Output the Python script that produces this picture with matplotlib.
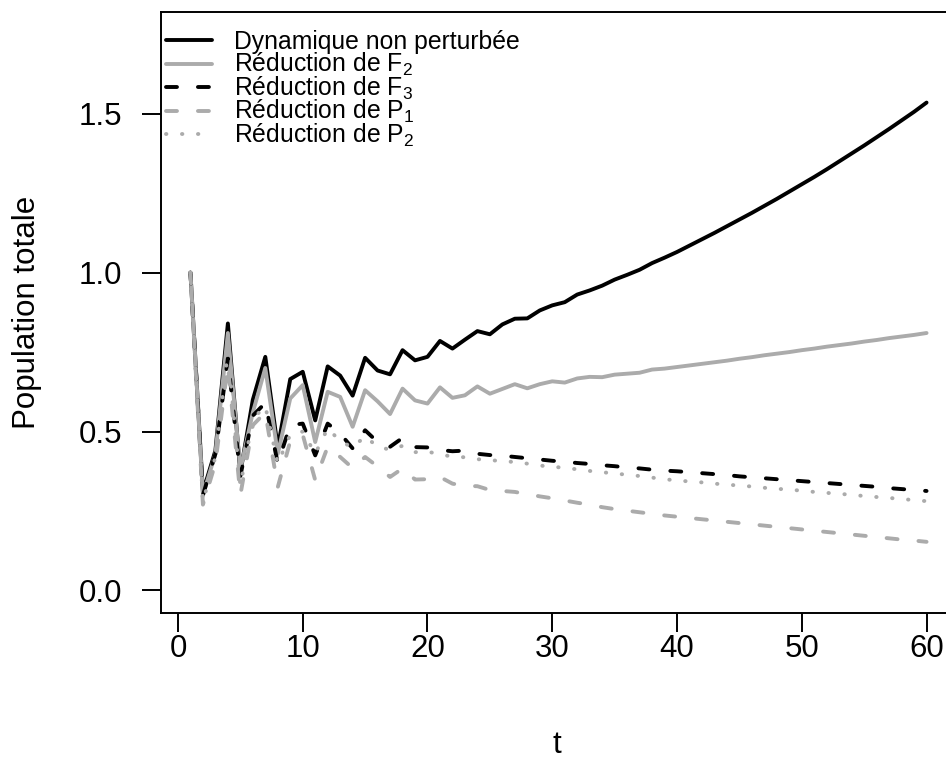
import numpy as np
import matplotlib
matplotlib.use("Agg")
import matplotlib.pyplot as plt
from matplotlib.lines import Line2D

plt.rcParams['font.family'] = ['Liberation Sans', 'DejaVu Sans']
plt.rcParams['mathtext.fontset'] = 'custom'
plt.rcParams['mathtext.rm'] = 'Liberation Sans'
plt.rcParams['mathtext.it'] = 'Liberation Sans:italic'
plt.rcParams['lines.scale_dashes'] = False

t = list(range(1, 61))

base = [1.00, 0.31, 0.44, 0.84, 0.37, 0.60, 0.735, 0.45, 0.665, 0.688,
        0.535, 0.705, 0.676, 0.613, 0.732, 0.692, 0.680, 0.756, 0.724, 0.735,
        0.785, 0.761, 0.789, 0.816, 0.806, 0.837, 0.855, 0.856, 0.881, 0.897,
        0.907, 0.931, 0.944, 0.959, 0.978, 0.993, 1.009, 1.030, 1.047, 1.065,
        1.085, 1.105, 1.125, 1.146, 1.167, 1.188, 1.210, 1.232, 1.255, 1.278,
        1.301, 1.325, 1.350, 1.375, 1.400, 1.426, 1.452, 1.479, 1.506, 1.535]

red_F2 = [1.00, 0.30, 0.43, 0.81, 0.38, 0.56, 0.70, 0.43, 0.604, 0.646,
          0.467, 0.625, 0.609, 0.515, 0.630, 0.595, 0.555, 0.635, 0.598, 0.588,
          0.639, 0.606, 0.614, 0.642, 0.619, 0.634, 0.649, 0.636, 0.649, 0.658,
          0.654, 0.667, 0.672, 0.671, 0.679, 0.682, 0.685, 0.695, 0.698, 0.703,
          0.708, 0.713, 0.718, 0.723, 0.729, 0.734, 0.740, 0.745, 0.750, 0.756,
          0.761, 0.767, 0.772, 0.777, 0.783, 0.788, 0.794, 0.799, 0.804, 0.810]

red_F3 = [1.00, 0.30, 0.43, 0.73, 0.36, 0.55, 0.59, 0.40, 0.52, 0.525,
          0.425, 0.525, 0.494, 0.447, 0.504, 0.467, 0.452, 0.480, 0.451, 0.450,
          0.442, 0.438, 0.440, 0.430, 0.426, 0.424, 0.420, 0.416, 0.412, 0.408,
          0.405, 0.401, 0.398, 0.394, 0.391, 0.387, 0.384, 0.380, 0.377, 0.375,
          0.372, 0.369, 0.366, 0.363, 0.359, 0.356, 0.353, 0.350, 0.347, 0.344,
          0.341, 0.338, 0.335, 0.332, 0.329, 0.326, 0.322, 0.319, 0.316, 0.313]

red_P1 = [1.00, 0.27, 0.40, 0.71, 0.30, 0.52, 0.56, 0.325, 0.47, 0.49,
          0.347, 0.452, 0.42, 0.385, 0.42, 0.39, 0.357, 0.384, 0.349, 0.350,
          0.357, 0.336, 0.329, 0.328, 0.316, 0.313, 0.310, 0.303, 0.296, 0.290,
          0.283, 0.276, 0.270, 0.262, 0.256, 0.251, 0.246, 0.241, 0.236, 0.232,
          0.228, 0.224, 0.220, 0.216, 0.212, 0.208, 0.204, 0.200, 0.196, 0.192,
          0.188, 0.184, 0.180, 0.176, 0.172, 0.168, 0.164, 0.160, 0.157, 0.153]

red_P2 = [1.00, 0.28, 0.42, 0.75, 0.33, 0.54, 0.58, 0.40, 0.49, 0.50,
          0.43, 0.51, 0.47, 0.45, 0.485, 0.452, 0.443, 0.455, 0.435, 0.437,
          0.428, 0.421, 0.419, 0.413, 0.410, 0.407, 0.404, 0.399, 0.393, 0.389,
          0.386, 0.381, 0.376, 0.372, 0.368, 0.364, 0.360, 0.355, 0.350, 0.346,
          0.343, 0.340, 0.336, 0.333, 0.330, 0.327, 0.323, 0.320, 0.317, 0.314,
          0.310, 0.307, 0.304, 0.301, 0.297, 0.294, 0.291, 0.288, 0.284, 0.281]

labels = ["Dynamique non perturbée", "Réduction de F$_2$", "Réduction de F$_3$",
          "Réduction de P$_1$", "Réduction de P$_2$"]
xticks = [0, 10, 20, 30, 40, 50, 60]
yticks = [0.0, 0.5, 1.0, 1.5]
ytick_labels = ["0.0", "0.5", "1.0", "1.5"]

W, H = 946, 760
fig = plt.figure(figsize=(W / 100, H / 100), dpi=100)
L, R, T, B = 161, 956, 12, 612.7
ax = fig.add_axes([L / W, 1 - B / H, (R - L) / W, (B - T) / H])

gray = '#ABABAB'
lw = 2.8
dash = (0, (7.9, 15.1))
dot = (0, (0.3, 11.2))
styles = [('black', '-'), (gray, '-'), ('black', dash), (gray, dash), (gray, dot)]
series = [base, red_F2, red_F3, red_P1, red_P2]
common = dict(lw=lw, solid_capstyle='round', dash_capstyle='round',
              solid_joinstyle='round', dash_joinstyle='round')
for ys, (c, ls), lab in zip(series, styles, labels):
    ax.plot(t, ys, color=c, linestyle=ls, label=lab, **common)

ax.set_xlim(1 - 0.04 * 59, 60 + 0.04 * 59)
ax.set_ylim(0 - 0.04 * 1.75, 1.75 + 0.04 * 1.75)
ax.set_xticks(xticks)
ax.set_xticklabels([str(v) for v in xticks])
ax.set_yticks(yticks)
ax.set_yticklabels(ytick_labels)
ax.tick_params(axis='both', direction='out', length=14, width=1.4, labelsize=22.5, color='black')
ax.tick_params(axis='y', pad=14)
ax.tick_params(axis='x', pad=1)
for s in ax.spines.values():
    s.set_linewidth(1.4)

fig.text(557 / W, 1 - 745 / H, "t", ha='center', va='center', fontsize=22.5)
fig.text(27 / W, 1 - 312 / H, "Population totale", ha='center', va='center', rotation=90, fontsize=22.5)

# manual legend (R-style)
row_y = [40, 63.5, 87, 110.5, 134]
for (c, ls), lab, yy in zip(styles, labels, row_y):
    fy = 1 - yy / H
    fig.add_artist(Line2D([166 / W, 212 / W], [fy, fy], transform=fig.transFigure,
                          color=c, linestyle=ls, **common))
    fig.text(234 / W, 1 - (yy + 8.5) / H, lab, ha='left', va='baseline', fontsize=17.8)

fig.savefig("out.png", dpi=100)
